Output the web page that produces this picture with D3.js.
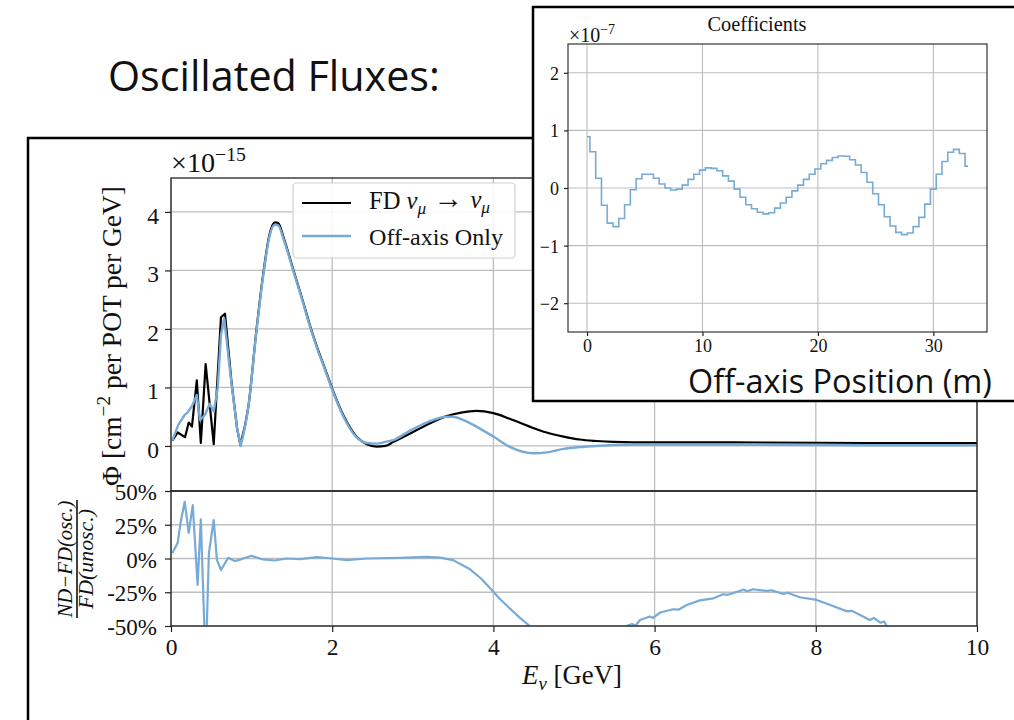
<!DOCTYPE html>
<html><head><meta charset="utf-8">
<script src="https://cdn.jsdelivr.net/npm/d3@7/dist/d3.min.js"></script>
<style>body{margin:0;background:#fff}svg{display:block}</style>
</head><body>
<svg id="chart" width="1014" height="720"></svg>
<script>
// ---------------- data ----------------
const energyTicks = [0, 2, 4, 6, 8, 10];
const fluxTicks = [0, 1, 2, 3, 4];
const ratioTicks = [50, 25, 0, -25, -50];
const ratioTickLabels = ["50%", "25%", "0%", "-25%", "-50%"];
const coefXTicks = [0, 10, 20, 30];
const coefYTicks = [-2, -1, 0, 1, 2];
const coefYTickLabels = ["\u22122", "\u22121", "0", "1", "2"];

// FD nu_mu -> nu_mu (x1e-15)
const fdEnergy = [0.016,0.083,0.174,0.22,0.26,0.32,0.37,0.43,0.53,0.62,0.67,0.75,0.82,0.86,0.96,1.06,1.15,1.22,1.29,1.33,1.40,1.52,1.62,1.72,1.83,1.89,2.0,2.14,2.30,2.43,2.55,2.66,2.76,2.95,3.17,3.42,3.6,3.79,4.0,4.21,4.45,4.66,4.87,5.07,5.28,5.49,6.0,7.0,8.0,9.0,10.0];
const fdFlux = [0.09,0.23,0.15,0.40,0.33,1.12,0.05,1.40,0.03,2.20,2.26,1.10,0.30,0.02,0.67,1.98,3.0,3.6,3.82,3.81,3.55,3.0,2.55,2.08,1.62,1.40,0.98,0.52,0.16,0.03,-0.01,0.0,0.07,0.20,0.36,0.51,0.57,0.60,0.56,0.46,0.33,0.23,0.16,0.11,0.085,0.07,0.06,0.06,0.055,0.05,0.05];

// Off-axis only (x1e-15)
const oaEnergy = [0.016,0.09,0.17,0.21,0.26,0.32,0.36,0.42,0.48,0.53,0.58,0.62,0.66,0.75,0.82,0.865,0.96,1.06,1.15,1.22,1.29,1.33,1.40,1.52,1.62,1.72,1.83,1.89,2.0,2.14,2.30,2.43,2.55,2.66,2.76,2.95,3.17,3.42,3.5,3.6,3.79,4.0,4.21,4.5,4.66,4.87,5.07,5.28,5.69,6.0,7.0,8.0,9.0,10.0];
const oaFlux = [0.09,0.36,0.53,0.58,0.68,0.87,0.44,0.53,0.72,0.59,0.99,1.9,2.18,1.07,0.30,0.0,0.67,1.96,2.97,3.57,3.78,3.77,3.52,2.98,2.53,2.06,1.60,1.38,0.96,0.50,0.15,0.05,0.04,0.07,0.10,0.25,0.40,0.50,0.50,0.46,0.33,0.16,-0.02,-0.125,-0.11,-0.05,-0.02,0.0,0.02,0.02,0.02,0.015,0.012,0.01];

// (ND - FD(osc.)) / FD(unosc.) in percent
const ratioEnergy = [0.016,0.083,0.12,0.17,0.22,0.27,0.33,0.37,0.43,0.47,0.53,0.57,0.62,0.71,0.79,0.84,0.92,1.0,1.14,1.29,1.43,1.6,1.81,2.0,2.18,2.43,2.84,3.17,3.34,3.5,3.71,3.85,4.0,4.08,4.33,4.45,4.7,5.0,5.3,5.5,5.65,5.72,5.76,5.82,5.94,5.98,6.07,6.23,6.3,6.4,6.56,6.73,6.85,6.9,7.06,7.1,7.15,7.22,7.39,7.45,7.6,7.65,7.8,8.01,8.18,8.38,8.45,8.55,8.67,8.72,8.8,8.85,8.88,9.0,10.0];
const ratioPct = [3.8,11.7,27,42,19,39.5,-19.6,29,-80,4,28.5,-1,-8.5,0.5,-1.8,-1.2,0.5,2,-0.7,-1.5,0,-0.5,1,0,-1.2,0,0.5,1.2,0.7,-1.2,-8,-15,-24.6,-30,-44,-50,-65,-75,-68,-58,-50,-48.5,-49.8,-45.5,-43,-44,-40,-37.6,-37.8,-34.4,-31,-29.5,-26.5,-27,-24,-23,-24.3,-22.8,-24,-23.5,-26.3,-25.3,-28.7,-30.7,-34.4,-39,-38.8,-41.8,-45.5,-44,-47.5,-46.8,-50,-56,-80];

// Inset: coefficients (x1e-7) vs off-axis position (m)
const coefPosition = [0,0.5,1,1.5,2,2.5,3,3.5,4,4.5,5,5.5,6,6.5,7,7.5,8,8.5,9,9.5,10,10.5,11,11.5,12,12.5,13,13.5,14,14.5,15,15.5,16,16.5,17,17.5,18,18.5,19,19.5,20,20.5,21,21.5,22,22.5,23,23.5,24,24.5,25,25.5,26,26.5,27,27.5,28,28.5,29,29.5,30,30.5,31,31.5,32,32.5,33];
const coefValues = [0.89,0.63,0.17,-0.30,-0.61,-0.67,-0.53,-0.29,-0.03,0.16,0.24,0.24,0.17,0.07,0.0,-0.035,-0.02,0.05,0.15,0.24,0.31,0.35,0.34,0.30,0.21,0.12,-0.02,-0.16,-0.29,-0.36,-0.42,-0.45,-0.43,-0.35,
  -0.26,-0.16,-0.05,0.05,0.15,0.24,0.33,0.42,0.48,0.53,0.555,0.55,0.49,0.40,0.27,0.10,-0.10,-0.29,-0.50,-0.66,-0.77,-0.81,-0.78,-0.67,-0.51,-0.28,-0.02,0.24,0.46,0.62,0.67,0.60,0.38];

// ---------------- drawing ----------------
const SERIF = "'Liberation Serif', 'DejaVu Serif', serif";
const SANS = "'Open Sans', 'Lato', sans-serif";
const BLUE = "#78aad6";
const GRID = "#bdbdbd";
const svg = d3.select("#chart");

function fitWidth(t, target) {
  const w = t.node().getComputedTextLength();
  const fs = parseFloat(t.attr("font-size"));
  t.attr("font-size", (fs * target / w).toFixed(2));
}

// Slide title
const title = svg.append("text").attr("x", 108).attr("y", 91)
  .attr("font-family", SANS).attr("font-size", 36).attr("fill", "#111")
  .text("Oscillated Fluxes:");
fitWidth(title, 332);

// Main frame
svg.append("rect").attr("x", 28).attr("y", 138).attr("width", 1020).attr("height", 620)
  .attr("fill", "#fff").attr("stroke", "#000").attr("stroke-width", 2.5);

// Scales
const L = 171, R = 977, T = 178, MID = 491, B = 626;
const x = d3.scaleLinear().domain([0, 10]).range([L, R]);
const yTop = d3.scaleLinear().domain([-0.77, 4.58]).range([MID, T]);
const yRat = d3.scaleLinear().domain([-50, 50]).range([B, MID]);

const defs = svg.append("defs");
defs.append("clipPath").attr("id", "clipTop").append("rect")
  .attr("x", L).attr("y", T).attr("width", R - L).attr("height", MID - T);
defs.append("clipPath").attr("id", "clipRat").append("rect")
  .attr("x", L).attr("y", MID).attr("width", R - L).attr("height", B - MID);

// Grids
const gGrid = svg.append("g").attr("stroke", GRID).attr("stroke-width", 1.3);
energyTicks.forEach(e => {
  gGrid.append("line").attr("x1", x(e)).attr("x2", x(e)).attr("y1", T).attr("y2", MID);
  gGrid.append("line").attr("x1", x(e)).attr("x2", x(e)).attr("y1", MID).attr("y2", B);
});
fluxTicks.forEach(v => gGrid.append("line").attr("x1", L).attr("x2", R).attr("y1", yTop(v)).attr("y2", yTop(v)));
ratioTicks.forEach(v => gGrid.append("line").attr("x1", L).attr("x2", R).attr("y1", yRat(v)).attr("y2", yRat(v)));

// Flux path: straight segments in the jagged low-energy region, smooth above
function fluxPath(E, V) {
  const pts = E.map((e, i) => [x(e), yTop(V[i])]);
  let k = E.findIndex(e => e >= 0.86);
  const lin = d3.line().curve(d3.curveLinear)(pts.slice(0, k + 1));
  const smooth = d3.line().curve(d3.curveMonotoneX)(pts.slice(k));
  return lin + smooth.replace(/^M/, "L");
}
const lineRat = d3.line().x((d, i) => x(ratioEnergy[i])).y(d => yRat(d));

svg.append("path").attr("d", fluxPath(fdEnergy, fdFlux)).attr("clip-path", "url(#clipTop)")
  .attr("fill", "none").attr("stroke", "#000").attr("stroke-width", 2.2).attr("stroke-linejoin", "round");
svg.append("path").attr("d", fluxPath(oaEnergy, oaFlux)).attr("clip-path", "url(#clipTop)")
  .attr("fill", "none").attr("stroke", BLUE).attr("stroke-width", 2.4).attr("stroke-linejoin", "round");
svg.append("path").datum(ratioPct).attr("d", lineRat).attr("clip-path", "url(#clipRat)")
  .attr("fill", "none").attr("stroke", BLUE).attr("stroke-width", 2.2).attr("stroke-linejoin", "round");

// Spines
svg.append("rect").attr("x", L).attr("y", T).attr("width", R - L).attr("height", MID - T)
  .attr("fill", "none").attr("stroke", "#222").attr("stroke-width", 1.3);
svg.append("rect").attr("x", L).attr("y", MID).attr("width", R - L).attr("height", B - MID)
  .attr("fill", "none").attr("stroke", "#222").attr("stroke-width", 1.3);

function styleAxis(g, size) {
  g.select(".domain").remove();
  g.selectAll(".tick line").attr("stroke", "#222").attr("stroke-width", 1.2);
  g.selectAll(".tick text").attr("font-family", SERIF).attr("font-size", size).attr("fill", "#111");
}

// Axes main
const axTop = svg.append("g").attr("transform", `translate(${L},0)`)
  .call(d3.axisLeft(yTop).tickValues(fluxTicks).tickSize(6).tickPadding(6).tickFormat(d3.format("d")));
styleAxis(axTop, 23.5); axTop.selectAll(".tick text").attr("dy", 11.5);

const axRat = svg.append("g").attr("transform", `translate(${L},0)`)
  .call(d3.axisLeft(yRat).tickValues(ratioTicks).tickSize(6).tickPadding(8).tickFormat((d, i) => ratioTickLabels[i]));
styleAxis(axRat, 23); axRat.selectAll(".tick text").attr("dy", 8.5);

const axX = svg.append("g").attr("transform", `translate(0,${B})`)
  .call(d3.axisBottom(x).tickValues(energyTicks).tickSize(6).tickPadding(6).tickFormat(d3.format("d")));
styleAxis(axX, 23.5); axX.selectAll(".tick text").attr("dy", 0).attr("y", 29);

// Offset text x10^-15
const off = svg.append("text").attr("x", 171).attr("y", 172).attr("font-family", SERIF).attr("font-size", 25).attr("fill", "#111");
off.append("tspan").text("\u00d710");
off.append("tspan").attr("font-size", "70%").attr("dy", "-0.55em").text("\u221215");
fitWidth(off, 75);

// Y label top
const yl = svg.append("text").attr("transform", "translate(121,336) rotate(-90)")
  .attr("text-anchor", "middle").attr("font-family", SERIF).attr("font-size", 26).attr("fill", "#111");
yl.append("tspan").text("\u03a6 [cm");
yl.append("tspan").attr("font-size", "70%").attr("dy", "-0.55em").text("\u22122");
yl.append("tspan").attr("dy", "0.385em").text(" per POT per GeV]");
fitWidth(yl, 300);

// Ratio fraction label
const num = svg.append("text").attr("transform", "translate(72,559) rotate(-90)")
  .attr("text-anchor", "middle").attr("font-family", SERIF).attr("font-size", 17).attr("font-style", "italic").attr("fill", "#111")
  .text("ND\u2212FD(osc.)");
fitWidth(num, 117);
const den = svg.append("text").attr("transform", "translate(93,559) rotate(-90)")
  .attr("text-anchor", "middle").attr("font-family", SERIF).attr("font-size", 17).attr("font-style", "italic").attr("fill", "#111")
  .text("FD(unosc.)");
fitWidth(den, 100);
svg.append("line").attr("x1", 77).attr("x2", 77).attr("y1", 500).attr("y2", 618).attr("stroke", "#111").attr("stroke-width", 1.6);

// X label
const xl = svg.append("text").attr("x", 572).attr("y", 684).attr("text-anchor", "middle")
  .attr("font-family", SERIF).attr("font-size", 26).attr("fill", "#111");
xl.append("tspan").attr("font-style", "italic").text("E");
xl.append("tspan").attr("font-style", "italic").attr("font-size", "70%").attr("dy", "0.3em").text("\u03bd");
xl.append("tspan").attr("dy", "-0.21em").text(" [GeV]");
fitWidth(xl, 100);

// Legend
const lg = svg.append("g");
lg.append("rect").attr("x", 293).attr("y", 183).attr("width", 222).attr("height", 75).attr("rx", 4)
  .attr("fill", "#fff").attr("fill-opacity", 0.85).attr("stroke", "#d0d0d0").attr("stroke-width", 1.2);
lg.append("line").attr("x1", 302).attr("x2", 351).attr("y1", 203).attr("y2", 203).attr("stroke", "#000").attr("stroke-width", 2.2);
lg.append("line").attr("x1", 302).attr("x2", 351).attr("y1", 236).attr("y2", 236).attr("stroke", BLUE).attr("stroke-width", 2.4);
const t1 = lg.append("text").attr("x", 369).attr("y", 209).attr("font-family", SERIF).attr("font-size", 23).attr("fill", "#111");
t1.append("tspan").text("FD ");
t1.append("tspan").attr("font-style", "italic").text("\u03bd");
t1.append("tspan").attr("font-style", "italic").attr("font-size", "70%").attr("dy", "0.3em").text("\u03bc");
t1.append("tspan").attr("dy", "-0.21em").attr("font-size", "120%").text(" \u2192 ");
t1.append("tspan").attr("font-style", "italic").text("\u03bd");
t1.append("tspan").attr("font-style", "italic").attr("font-size", "70%").attr("dy", "0.3em").text("\u03bc");
fitWidth(t1, 121);
const t2 = lg.append("text").attr("x", 369).attr("y", 245).attr("font-family", SERIF).attr("font-size", 22).attr("fill", "#111")
  .text("Off-axis Only");
fitWidth(t2, 134);

// ---------------- Inset ----------------
svg.append("rect").attr("x", 533).attr("y", 7).attr("width", 520).attr("height", 394)
  .attr("fill", "#fff").attr("stroke", "#000").attr("stroke-width", 2.5);

const iL = 568, iR = 987, iT = 44, iB = 332;
const xi = d3.scaleLinear().domain([-1.65, 34.65]).range([iL, iR]);
const yi = d3.scaleLinear().domain([-2.5, 2.5]).range([iB, iT]);

const gi = svg.append("g").attr("stroke", GRID).attr("stroke-width", 1.1);
coefXTicks.forEach(v => gi.append("line").attr("x1", xi(v)).attr("x2", xi(v)).attr("y1", iT).attr("y2", iB));
coefYTicks.forEach(v => gi.append("line").attr("x1", iL).attr("x2", iR).attr("y1", yi(v)).attr("y2", yi(v)));

const stepLine = d3.line().x((d, i) => xi(coefPosition[i])).y(d => yi(d)).curve(d3.curveStep);
svg.append("path").datum(coefValues).attr("d", stepLine)
  .attr("fill", "none").attr("stroke", BLUE).attr("stroke-width", 1.6);

svg.append("rect").attr("x", iL).attr("y", iT).attr("width", iR - iL).attr("height", iB - iT)
  .attr("fill", "none").attr("stroke", "#222").attr("stroke-width", 1.1);

const axIY = svg.append("g").attr("transform", `translate(${iL},0)`)
  .call(d3.axisLeft(yi).tickValues(coefYTicks).tickSize(4).tickPadding(5).tickFormat((d, i) => coefYTickLabels[i]));
styleAxis(axIY, 18); axIY.selectAll(".tick text").attr("dy", 6.5);
const axIX = svg.append("g").attr("transform", `translate(0,${iB})`)
  .call(d3.axisBottom(xi).tickValues(coefXTicks).tickSize(4).tickPadding(5).tickFormat(d3.format("d")));
styleAxis(axIX, 18); axIX.selectAll(".tick text").attr("dy", 0).attr("y", 20);

const ct = svg.append("text").attr("x", 757).attr("y", 31).attr("text-anchor", "middle")
  .attr("font-family", SERIF).attr("font-size", 20).attr("fill", "#111").text("Coefficients");
fitWidth(ct, 99);
const offI = svg.append("text").attr("x", 569).attr("y", 42).attr("font-family", SERIF).attr("font-size", 18).attr("fill", "#111");
offI.append("tspan").text("\u00d710");
offI.append("tspan").attr("font-size", "70%").attr("dy", "-0.55em").text("\u22127");
fitWidth(offI, 46);

const oap = svg.append("text").attr("x", 688).attr("y", 393)
  .attr("font-family", SANS).attr("font-size", 28).attr("fill", "#111").text("Off-axis Position (m)");
fitWidth(oap, 304);
</script>
</body></html>
